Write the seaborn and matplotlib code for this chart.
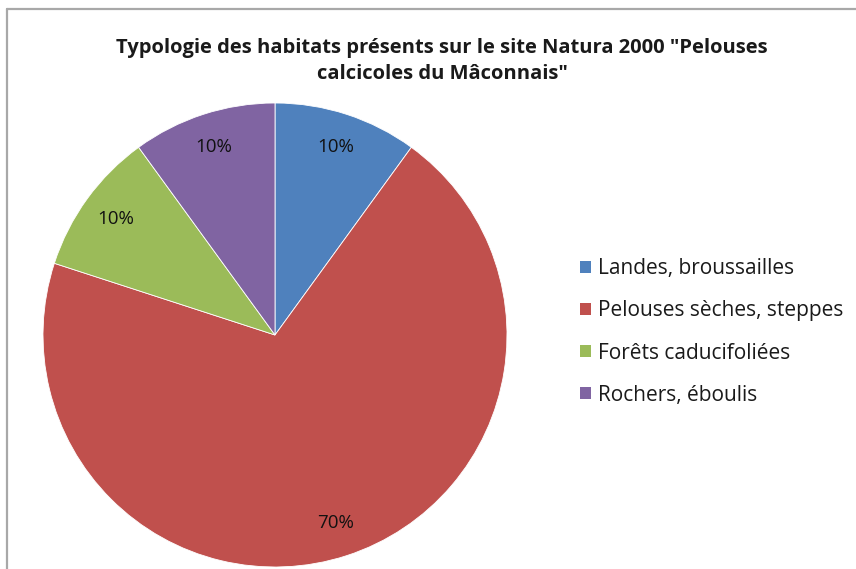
import matplotlib
matplotlib.use("Agg")
import matplotlib.pyplot as plt
import seaborn as sns
from matplotlib.patches import Patch
from matplotlib.lines import Line2D

categories = ["Landes, broussailles", "Pelouses sèches, steppes", "Forêts caducifoliées", "Rochers, éboulis"]
values = [10, 70, 10, 10]
colors = ["#4F81BD", "#C0504D", "#9BBB59", "#8064A2"]
title = "Typologie des habitats présents sur le site Natura 2000 \"Pelouses\ncalcicoles du Mâconnais\""

sns.set_theme(style="white")
plt.rcParams['font.family'] = ['Open Sans', 'DejaVu Sans']

W, H = 856, 569
fig = plt.figure(figsize=(W / 100, H / 100), dpi=100)

# chart frame
fig.add_artist(Line2D([7 / W, 7 / W], [0, 1 - 9 / H], color="#a8a8a8", lw=1.6, transform=fig.transFigure))
fig.add_artist(Line2D([7 / W, 1], [1 - 9 / H, 1 - 9 / H], color="#a8a8a8", lw=1.6, transform=fig.transFigure))

cx, cy, r = 275, 335, 232
ax = fig.add_axes([(cx - r) / W, (H - cy - r) / H, 2 * r / W, 2 * r / H])
wedges, texts, autotexts = ax.pie(values, colors=colors, startangle=90, counterclock=False,
                                  autopct=lambda p: f"{p:.0f}%", pctdistance=0.85,
                                  wedgeprops=dict(edgecolor="white", linewidth=0.6),
                                  textprops=dict(fontsize=13.5, color="#111111"))
ax.set_xlim(-1, 1)
ax.set_ylim(-1, 1)
ax.set_aspect("auto")
ax.axis("off")

fig.text(442 / W, 1 - 61 / H, title, ha="center", va="center", fontsize=14.5, fontweight="bold",
         color="#1a1a1a", linespacing=1.38)

handles = [Patch(facecolor=c, edgecolor="none") for c in colors]
fig.legend(handles, categories, loc="center left", bbox_to_anchor=(561 / W, 1 - 332 / H),
           frameon=False, fontsize=15, handlelength=0.55, handleheight=0.55, handletextpad=0.35,
           labelspacing=1.01, labelcolor="#1a1a1a")

fig.savefig("out.png", dpi=100, facecolor="white")
